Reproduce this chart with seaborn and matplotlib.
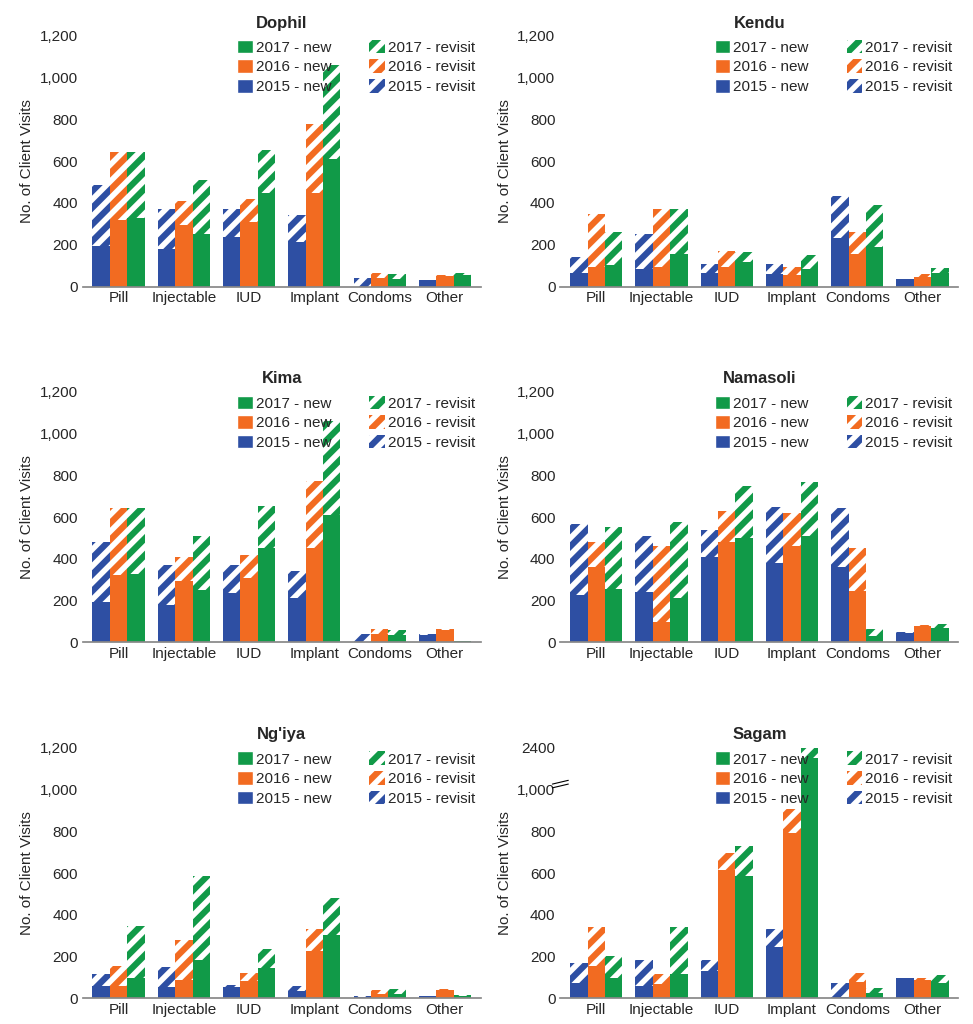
import numpy as np
import pandas as pd
import matplotlib
matplotlib.use("Agg")
from matplotlib import pyplot as plt
from matplotlib.patches import Patch
from matplotlib.ticker import FuncFormatter
import seaborn as sns

categories = ["Pill", "Injectable", "IUD", "Implant", "Condoms", "Other"]
years = ["2015", "2016", "2017"]

# (new, total) per year, per category
dophil_new = {"2015": [195, 180, 235, 215, 0, 30], "2016": [320, 295, 310, 450, 40, 50], "2017": [330, 250, 450, 610, 35, 55]}
dophil_tot = {"2015": [485, 370, 370, 340, 40, 30], "2016": [645, 410, 420, 780, 65, 55], "2017": [645, 510, 655, 1060, 60, 65]}
kendu_new = {"2015": [65, 85, 65, 60, 230, 35], "2016": [95, 95, 95, 55, 155, 45], "2017": [105, 155, 115, 85, 190, 65]}
kendu_tot = {"2015": [140, 250, 110, 110, 435, 35], "2016": [345, 370, 170, 95, 260, 60], "2017": [260, 370, 165, 150, 390, 90]}
kima_new = {"2015": [195, 180, 235, 215, 0, 35], "2016": [325, 295, 310, 450, 40, 60], "2017": [330, 250, 450, 610, 35, 5]}
kima_tot = {"2015": [480, 370, 370, 340, 40, 40], "2016": [645, 410, 420, 775, 65, 65], "2017": [645, 510, 655, 1060, 60, 5]}
namasoli_new = {"2015": [225, 240, 410, 380, 360, 45], "2016": [360, 100, 480, 460, 245, 80], "2017": [255, 215, 500, 510, 30, 70]}
namasoli_tot = {"2015": [565, 510, 540, 650, 645, 50], "2016": [480, 460, 630, 620, 450, 85], "2017": [555, 575, 750, 770, 65, 90]}
ngiya_new = {"2015": [60, 55, 55, 35, 5, 10], "2016": [60, 90, 85, 225, 20, 40], "2017": [100, 185, 145, 305, 20, 10]}
ngiya_tot = {"2015": [115, 150, 65, 60, 10, 10], "2016": [155, 280, 120, 330, 40, 45], "2017": [345, 585, 235, 480, 45, 15]}
sagam_new = {"2015": [75, 60, 130, 245, 5, 100], "2016": [155, 70, 615, 790, 80, 90], "2017": [100, 115, 585, 2050, 25, 75]}
sagam_tot = {"2015": [170, 185, 185, 330, 75, 100], "2016": [340, 115, 695, 905, 120, 100], "2017": [205, 340, 730, 2400, 50, 110]}

panels = [
    ("Dophil", dophil_new, dophil_tot, False),
    ("Kendu", kendu_new, kendu_tot, False),
    ("Kima", kima_new, kima_tot, False),
    ("Namasoli", namasoli_new, namasoli_tot, False),
    ("Ng'iya", ngiya_new, ngiya_tot, False),
    ("Sagam", sagam_new, sagam_tot, True),
]

colors = {"2015": "#2E4FA3", "2016": "#F26B21", "2017": "#119A48"}


def broken(v):
    # Sagam axis: linear to 1000, then 1000..2400 squeezed into 1000..1200
    v = np.asarray(v, dtype=float)
    return np.where(v <= 1000, v, 1000 + (v - 1000) * 200 / 1400)


sns.set_theme(style="white")
plt.rcParams["font.family"] = ["Liberation Sans", "DejaVu Sans"]
plt.rcParams["hatch.linewidth"] = 4.5

fig, axes = plt.subplots(3, 2, figsize=(9.73, 10.24), dpi=100)
fig.subplots_adjust(left=0.085, right=0.985, top=0.965, bottom=0.025, hspace=0.42, wspace=0.2)

for ax, (name, new, tot, brk) in zip(axes.flat, panels):
    rows = []
    for y in years:
        for c, n, t in zip(categories, new[y], tot[y]):
            rows.append({"cat": c, "year": y, "new": n, "total": t})
    df = pd.DataFrame(rows)
    if brk:
        df["new"] = broken(df["new"])
        df["total"] = broken(df["total"])
    pal = [colors[y] for y in years]
    sns.barplot(data=df, x="cat", y="total", hue="year", palette=pal, ax=ax,
                width=0.8, legend=False, saturation=1)
    for p in ax.patches:
        p.set_edgecolor(p.get_facecolor())
        p.set_facecolor("white")
        p.set_hatch("//")
        p.set_linewidth(0)
    n_hatched = len(ax.patches)
    sns.barplot(data=df, x="cat", y="new", hue="year", palette=pal, ax=ax,
                width=0.8, legend=False, saturation=1)
    for p in ax.patches[n_hatched:]:
        p.set_linewidth(0)

    ax.set_ylim(0, 1200)
    ax.set_xlim(-0.55, 5.55)
    if brk:
        ax.set_yticks([0, 200, 400, 600, 800, 1000, 1200])
        ax.set_yticklabels(["0", "200", "400", "600", "800", "1,000", "2400"])
        ax.plot([-0.02, 0.02], [0.84, 0.855], transform=ax.transAxes, color="black", lw=0.8, clip_on=False)
        ax.plot([-0.02, 0.02], [0.855, 0.87], transform=ax.transAxes, color="black", lw=0.8, clip_on=False)
    else:
        ax.set_yticks(range(0, 1201, 200))
        ax.yaxis.set_major_formatter(FuncFormatter(lambda v, _: f"{int(v):,}"))
    ax.tick_params(axis="both", labelsize=11, length=0)
    ax.set_xlabel("")
    ax.set_ylabel("No. of Client Visits", fontsize=11)
    ax.set_title(name, fontsize=12, fontweight="bold")
    for s in ["top", "right", "left"]:
        ax.spines[s].set_visible(False)
    ax.spines["bottom"].set_color("#888888")

    handles = [Patch(facecolor=colors[y], label=f"{y} - new") for y in reversed(years)]
    handles += [Patch(facecolor="white", edgecolor=colors[y], hatch="//", linewidth=0,
                      label=f"{y} - revisit") for y in reversed(years)]
    ax.legend(handles=handles, ncol=2, loc="upper right", bbox_to_anchor=(1.02, 1.04),
              frameon=False, fontsize=11, handlelength=1.0, handleheight=1.0,
              handletextpad=0.2, columnspacing=2.5, labelspacing=0.3)

fig.savefig("out.png", dpi=100)
